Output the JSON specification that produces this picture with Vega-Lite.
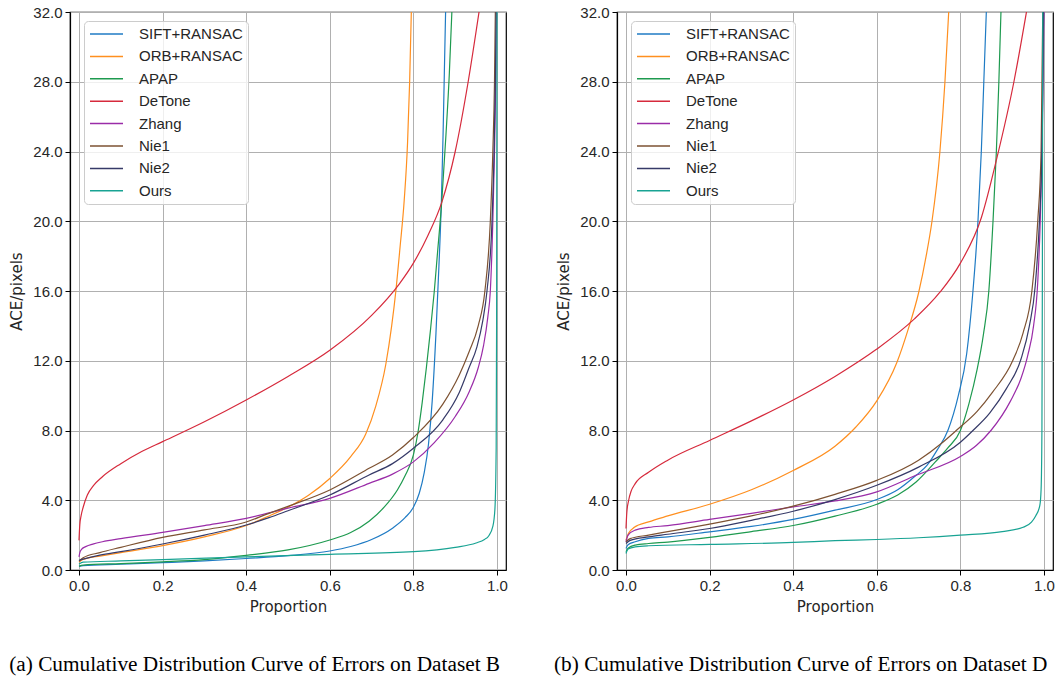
{
  "$schema": "https://vega.github.io/schema/vega-lite/v6.json",
  "background": "white",
  "padding": {"left": 5, "top": 4, "right": 0, "bottom": 0},
  "spacing": 41,
  "config": {
    "view": {"stroke": "black", "strokeWidth": 1.2},
    "axis": {
      "domain": true, "domainColor": "black", "domainWidth": 1.2,
      "grid": true, "gridColor": "#b0b0b0", "gridWidth": 1,
      "ticks": true, "tickColor": "black", "tickSize": 5, "tickWidth": 1,
      "labelFont": "Liberation Sans", "labelFontSize": 15, "labelColor": "#262626", "labelPadding": 3,
      "titleFont": "DejaVu Sans", "titleFontSize": 15, "titleFontWeight": "normal", "titleColor": "#262626"
    },
    "legend": {
      "title": null, "orient": "none", "legendX": 14, "legendY": 9,
      "symbolType": "stroke", "symbolSize": 1089, "symbolStrokeWidth": 1.5,
      "labelFont": "Liberation Sans", "labelFontSize": 15, "labelColor": "#262626",
      "labelOffset": 15, "padding": 5, "rowPadding": 6.4, "clipHeight": 16,
      "strokeColor": "#cccccc", "fillColor": "rgba(255,255,255,0.8)", "cornerRadius": 4
    }
  },
  "datasets": {
    "B": [
      {"m":"SIFT+RANSAC","p":0,"v":0.2},{"m":"SIFT+RANSAC","p":0.01,"v":0.25},{"m":"SIFT+RANSAC","p":0.1,"v":0.33},{"m":"SIFT+RANSAC","p":0.2,"v":0.42},{"m":"SIFT+RANSAC","p":0.3,"v":0.52},{"m":"SIFT+RANSAC","p":0.4,"v":0.66},{"m":"SIFT+RANSAC","p":0.5,"v":0.82},{"m":"SIFT+RANSAC","p":0.6,"v":1.09},{"m":"SIFT+RANSAC","p":0.65,"v":1.35},{"m":"SIFT+RANSAC","p":0.7,"v":1.75},{"m":"SIFT+RANSAC","p":0.75,"v":2.4},{"m":"SIFT+RANSAC","p":0.78,"v":3.0},{"m":"SIFT+RANSAC","p":0.8,"v":3.6},{"m":"SIFT+RANSAC","p":0.814,"v":4.4},{"m":"SIFT+RANSAC","p":0.826,"v":5.6},{"m":"SIFT+RANSAC","p":0.836,"v":7.2},{"m":"SIFT+RANSAC","p":0.845,"v":9.7},{"m":"SIFT+RANSAC","p":0.854,"v":13.6},{"m":"SIFT+RANSAC","p":0.861,"v":17.4},{"m":"SIFT+RANSAC","p":0.867,"v":21.2},{"m":"SIFT+RANSAC","p":0.871,"v":25},{"m":"SIFT+RANSAC","p":0.874,"v":28.5},{"m":"SIFT+RANSAC","p":0.877,"v":32},
      {"m":"ORB+RANSAC","p":0,"v":0.45},{"m":"ORB+RANSAC","p":0.005,"v":0.55},{"m":"ORB+RANSAC","p":0.02,"v":0.68},{"m":"ORB+RANSAC","p":0.05,"v":0.8},{"m":"ORB+RANSAC","p":0.1,"v":1.0},{"m":"ORB+RANSAC","p":0.2,"v":1.4},{"m":"ORB+RANSAC","p":0.3,"v":1.9},{"m":"ORB+RANSAC","p":0.4,"v":2.55},{"m":"ORB+RANSAC","p":0.45,"v":3.05},{"m":"ORB+RANSAC","p":0.5,"v":3.6},{"m":"ORB+RANSAC","p":0.55,"v":4.3},{"m":"ORB+RANSAC","p":0.6,"v":5.25},{"m":"ORB+RANSAC","p":0.65,"v":6.5},{"m":"ORB+RANSAC","p":0.686,"v":7.8},{"m":"ORB+RANSAC","p":0.71,"v":9.4},{"m":"ORB+RANSAC","p":0.734,"v":11.8},{"m":"ORB+RANSAC","p":0.748,"v":14.0},{"m":"ORB+RANSAC","p":0.758,"v":16.0},{"m":"ORB+RANSAC","p":0.768,"v":18.5},{"m":"ORB+RANSAC","p":0.778,"v":21.2},{"m":"ORB+RANSAC","p":0.786,"v":24.5},{"m":"ORB+RANSAC","p":0.791,"v":28},{"m":"ORB+RANSAC","p":0.795,"v":32},
      {"m":"APAP","p":0,"v":0.22},{"m":"APAP","p":0.01,"v":0.28},{"m":"APAP","p":0.1,"v":0.37},{"m":"APAP","p":0.2,"v":0.47},{"m":"APAP","p":0.3,"v":0.6},{"m":"APAP","p":0.4,"v":0.84},{"m":"APAP","p":0.5,"v":1.15},{"m":"APAP","p":0.6,"v":1.72},{"m":"APAP","p":0.65,"v":2.15},{"m":"APAP","p":0.694,"v":2.8},{"m":"APAP","p":0.73,"v":3.6},{"m":"APAP","p":0.762,"v":4.6},{"m":"APAP","p":0.78,"v":5.4},{"m":"APAP","p":0.8,"v":6.6},{"m":"APAP","p":0.811,"v":7.9},{"m":"APAP","p":0.821,"v":9.6},{"m":"APAP","p":0.831,"v":11.6},{"m":"APAP","p":0.841,"v":13.8},{"m":"APAP","p":0.85,"v":16},{"m":"APAP","p":0.857,"v":18},{"m":"APAP","p":0.868,"v":21.2},{"m":"APAP","p":0.878,"v":25},{"m":"APAP","p":0.886,"v":28.5},{"m":"APAP","p":0.892,"v":32},
      {"m":"DeTone","p":0,"v":1.7},{"m":"DeTone","p":0.002,"v":2.6},{"m":"DeTone","p":0.005,"v":3.1},{"m":"DeTone","p":0.01,"v":3.6},{"m":"DeTone","p":0.02,"v":4.3},{"m":"DeTone","p":0.035,"v":4.85},{"m":"DeTone","p":0.056,"v":5.35},{"m":"DeTone","p":0.1,"v":6.1},{"m":"DeTone","p":0.15,"v":6.8},{"m":"DeTone","p":0.2,"v":7.36},{"m":"DeTone","p":0.3,"v":8.5},{"m":"DeTone","p":0.4,"v":9.75},{"m":"DeTone","p":0.5,"v":11.1},{"m":"DeTone","p":0.6,"v":12.6},{"m":"DeTone","p":0.7,"v":14.6},{"m":"DeTone","p":0.766,"v":16.4},{"m":"DeTone","p":0.8,"v":17.6},{"m":"DeTone","p":0.835,"v":19.2},{"m":"DeTone","p":0.868,"v":21.1},{"m":"DeTone","p":0.9,"v":24},{"m":"DeTone","p":0.931,"v":28},{"m":"DeTone","p":0.957,"v":32},
      {"m":"Zhang","p":0,"v":0.75},{"m":"Zhang","p":0.002,"v":1.0},{"m":"Zhang","p":0.006,"v":1.18},{"m":"Zhang","p":0.016,"v":1.34},{"m":"Zhang","p":0.035,"v":1.5},{"m":"Zhang","p":0.056,"v":1.62},{"m":"Zhang","p":0.1,"v":1.8},{"m":"Zhang","p":0.2,"v":2.16},{"m":"Zhang","p":0.3,"v":2.55},{"m":"Zhang","p":0.4,"v":2.96},{"m":"Zhang","p":0.5,"v":3.55},{"m":"Zhang","p":0.6,"v":4.11},{"m":"Zhang","p":0.694,"v":4.97},{"m":"Zhang","p":0.75,"v":5.5},{"m":"Zhang","p":0.8,"v":6.2},{"m":"Zhang","p":0.85,"v":7.3},{"m":"Zhang","p":0.9,"v":8.8},{"m":"Zhang","p":0.933,"v":10.2},{"m":"Zhang","p":0.955,"v":11.6},{"m":"Zhang","p":0.968,"v":12.9},{"m":"Zhang","p":0.978,"v":14.5},{"m":"Zhang","p":0.984,"v":16},{"m":"Zhang","p":0.99,"v":20},{"m":"Zhang","p":0.994,"v":24},{"m":"Zhang","p":0.997,"v":28},{"m":"Zhang","p":0.999,"v":32},
      {"m":"Nie1","p":0,"v":0.5},{"m":"Nie1","p":0.01,"v":0.7},{"m":"Nie1","p":0.05,"v":1.0},{"m":"Nie1","p":0.1,"v":1.3},{"m":"Nie1","p":0.2,"v":1.87},{"m":"Nie1","p":0.3,"v":2.3},{"m":"Nie1","p":0.4,"v":2.75},{"m":"Nie1","p":0.4545,"v":3.25},{"m":"Nie1","p":0.5,"v":3.65},{"m":"Nie1","p":0.6,"v":4.59},{"m":"Nie1","p":0.694,"v":5.83},{"m":"Nie1","p":0.75,"v":6.6},{"m":"Nie1","p":0.8,"v":7.6},{"m":"Nie1","p":0.87,"v":9.5},{"m":"Nie1","p":0.91,"v":11.2},{"m":"Nie1","p":0.933,"v":12.5},{"m":"Nie1","p":0.955,"v":14},{"m":"Nie1","p":0.971,"v":16},{"m":"Nie1","p":0.984,"v":20},{"m":"Nie1","p":0.99,"v":24},{"m":"Nie1","p":0.994,"v":28},{"m":"Nie1","p":0.996,"v":32},
      {"m":"Nie2","p":0,"v":0.55},{"m":"Nie2","p":0.01,"v":0.62},{"m":"Nie2","p":0.05,"v":0.85},{"m":"Nie2","p":0.1,"v":1.05},{"m":"Nie2","p":0.2,"v":1.49},{"m":"Nie2","p":0.3,"v":2.0},{"m":"Nie2","p":0.4,"v":2.58},{"m":"Nie2","p":0.4545,"v":3.0},{"m":"Nie2","p":0.5,"v":3.4},{"m":"Nie2","p":0.6,"v":4.3},{"m":"Nie2","p":0.694,"v":5.45},{"m":"Nie2","p":0.75,"v":6.1},{"m":"Nie2","p":0.8,"v":6.98},{"m":"Nie2","p":0.87,"v":8.6},{"m":"Nie2","p":0.91,"v":10.2},{"m":"Nie2","p":0.933,"v":11.6},{"m":"Nie2","p":0.952,"v":12.8},{"m":"Nie2","p":0.966,"v":14.3},{"m":"Nie2","p":0.976,"v":16},{"m":"Nie2","p":0.988,"v":20},{"m":"Nie2","p":0.993,"v":24},{"m":"Nie2","p":0.996,"v":28},{"m":"Nie2","p":0.998,"v":32},
      {"m":"Ours","p":0,"v":0.35},{"m":"Ours","p":0.01,"v":0.45},{"m":"Ours","p":0.1,"v":0.52},{"m":"Ours","p":0.2,"v":0.6},{"m":"Ours","p":0.4,"v":0.75},{"m":"Ours","p":0.6,"v":0.9},{"m":"Ours","p":0.8,"v":1.05},{"m":"Ours","p":0.9,"v":1.3},{"m":"Ours","p":0.95,"v":1.55},{"m":"Ours","p":0.97,"v":1.75},{"m":"Ours","p":0.98,"v":1.95},{"m":"Ours","p":0.99,"v":2.5},{"m":"Ours","p":0.995,"v":3.5},{"m":"Ours","p":0.998,"v":7},{"m":"Ours","p":0.999,"v":14},{"m":"Ours","p":1.0,"v":32}
    ],
    "D": [
      {"m":"SIFT+RANSAC","p":0,"v":1.24},{"m":"SIFT+RANSAC","p":0.005,"v":1.45},{"m":"SIFT+RANSAC","p":0.022,"v":1.62},{"m":"SIFT+RANSAC","p":0.054,"v":1.81},{"m":"SIFT+RANSAC","p":0.1,"v":1.9},{"m":"SIFT+RANSAC","p":0.2,"v":2.19},{"m":"SIFT+RANSAC","p":0.3,"v":2.5},{"m":"SIFT+RANSAC","p":0.4,"v":2.9},{"m":"SIFT+RANSAC","p":0.5,"v":3.43},{"m":"SIFT+RANSAC","p":0.6,"v":4.04},{"m":"SIFT+RANSAC","p":0.65,"v":4.6},{"m":"SIFT+RANSAC","p":0.694,"v":5.43},{"m":"SIFT+RANSAC","p":0.72,"v":6.0},{"m":"SIFT+RANSAC","p":0.745,"v":6.9},{"m":"SIFT+RANSAC","p":0.77,"v":8.0},{"m":"SIFT+RANSAC","p":0.795,"v":10},{"m":"SIFT+RANSAC","p":0.815,"v":12.4},{"m":"SIFT+RANSAC","p":0.83,"v":16},{"m":"SIFT+RANSAC","p":0.842,"v":20},{"m":"SIFT+RANSAC","p":0.85,"v":24},{"m":"SIFT+RANSAC","p":0.856,"v":28},{"m":"SIFT+RANSAC","p":0.862,"v":32},
      {"m":"ORB+RANSAC","p":0,"v":1.71},{"m":"ORB+RANSAC","p":0.006,"v":2.1},{"m":"ORB+RANSAC","p":0.02,"v":2.45},{"m":"ORB+RANSAC","p":0.054,"v":2.76},{"m":"ORB+RANSAC","p":0.1,"v":3.1},{"m":"ORB+RANSAC","p":0.2,"v":3.77},{"m":"ORB+RANSAC","p":0.3,"v":4.6},{"m":"ORB+RANSAC","p":0.4,"v":5.71},{"m":"ORB+RANSAC","p":0.5,"v":7.1},{"m":"ORB+RANSAC","p":0.55,"v":8.2},{"m":"ORB+RANSAC","p":0.6,"v":9.7},{"m":"ORB+RANSAC","p":0.648,"v":11.9},{"m":"ORB+RANSAC","p":0.675,"v":13.8},{"m":"ORB+RANSAC","p":0.7,"v":15.9},{"m":"ORB+RANSAC","p":0.718,"v":18},{"m":"ORB+RANSAC","p":0.732,"v":20},{"m":"ORB+RANSAC","p":0.751,"v":24},{"m":"ORB+RANSAC","p":0.763,"v":28},{"m":"ORB+RANSAC","p":0.772,"v":32},
      {"m":"APAP","p":0,"v":1.05},{"m":"APAP","p":0.005,"v":1.25},{"m":"APAP","p":0.022,"v":1.43},{"m":"APAP","p":0.054,"v":1.52},{"m":"APAP","p":0.1,"v":1.6},{"m":"APAP","p":0.2,"v":1.87},{"m":"APAP","p":0.3,"v":2.2},{"m":"APAP","p":0.4,"v":2.55},{"m":"APAP","p":0.5,"v":3.09},{"m":"APAP","p":0.6,"v":3.77},{"m":"APAP","p":0.65,"v":4.3},{"m":"APAP","p":0.694,"v":5.05},{"m":"APAP","p":0.74,"v":6.2},{"m":"APAP","p":0.77,"v":7.0},{"m":"APAP","p":0.8,"v":8.0},{"m":"APAP","p":0.82,"v":9.5},{"m":"APAP","p":0.84,"v":11.5},{"m":"APAP","p":0.855,"v":13.5},{"m":"APAP","p":0.868,"v":16},{"m":"APAP","p":0.878,"v":20},{"m":"APAP","p":0.886,"v":24},{"m":"APAP","p":0.892,"v":28},{"m":"APAP","p":0.897,"v":32},
      {"m":"DeTone","p":0,"v":2.38},{"m":"DeTone","p":0.002,"v":3.3},{"m":"DeTone","p":0.0064,"v":4.0},{"m":"DeTone","p":0.012,"v":4.5},{"m":"DeTone","p":0.022,"v":4.95},{"m":"DeTone","p":0.054,"v":5.6},{"m":"DeTone","p":0.1,"v":6.3},{"m":"DeTone","p":0.2,"v":7.43},{"m":"DeTone","p":0.3,"v":8.55},{"m":"DeTone","p":0.4,"v":9.75},{"m":"DeTone","p":0.5,"v":11.1},{"m":"DeTone","p":0.6,"v":12.67},{"m":"DeTone","p":0.69,"v":14.4},{"m":"DeTone","p":0.75,"v":15.9},{"m":"DeTone","p":0.8,"v":17.6},{"m":"DeTone","p":0.85,"v":20.2},{"m":"DeTone","p":0.887,"v":23.6},{"m":"DeTone","p":0.928,"v":28},{"m":"DeTone","p":0.958,"v":32},
      {"m":"Zhang","p":0,"v":1.62},{"m":"Zhang","p":0.005,"v":2.0},{"m":"Zhang","p":0.022,"v":2.29},{"m":"Zhang","p":0.054,"v":2.44},{"m":"Zhang","p":0.1,"v":2.55},{"m":"Zhang","p":0.2,"v":2.9},{"m":"Zhang","p":0.3,"v":3.25},{"m":"Zhang","p":0.4,"v":3.62},{"m":"Zhang","p":0.5,"v":3.96},{"m":"Zhang","p":0.6,"v":4.48},{"m":"Zhang","p":0.694,"v":5.43},{"m":"Zhang","p":0.8,"v":6.51},{"m":"Zhang","p":0.838,"v":7.14},{"m":"Zhang","p":0.873,"v":8},{"m":"Zhang","p":0.92,"v":9.7},{"m":"Zhang","p":0.945,"v":11},{"m":"Zhang","p":0.961,"v":12.3},{"m":"Zhang","p":0.975,"v":14},{"m":"Zhang","p":0.985,"v":16.5},{"m":"Zhang","p":0.991,"v":20},{"m":"Zhang","p":0.995,"v":24},{"m":"Zhang","p":0.998,"v":28},{"m":"Zhang","p":1.0,"v":32},
      {"m":"Nie1","p":0,"v":1.62},{"m":"Nie1","p":0.01,"v":1.8},{"m":"Nie1","p":0.054,"v":2.0},{"m":"Nie1","p":0.1,"v":2.2},{"m":"Nie1","p":0.2,"v":2.63},{"m":"Nie1","p":0.3,"v":3.1},{"m":"Nie1","p":0.4,"v":3.66},{"m":"Nie1","p":0.5,"v":4.34},{"m":"Nie1","p":0.6,"v":5.14},{"m":"Nie1","p":0.7,"v":6.3},{"m":"Nie1","p":0.758,"v":7.33},{"m":"Nie1","p":0.79,"v":8.0},{"m":"Nie1","p":0.84,"v":9.1},{"m":"Nie1","p":0.877,"v":10.2},{"m":"Nie1","p":0.925,"v":12},{"m":"Nie1","p":0.95,"v":13.6},{"m":"Nie1","p":0.971,"v":16},{"m":"Nie1","p":0.985,"v":20},{"m":"Nie1","p":0.993,"v":24},{"m":"Nie1","p":0.995,"v":28},{"m":"Nie1","p":0.997,"v":32},
      {"m":"Nie2","p":0,"v":1.52},{"m":"Nie2","p":0.01,"v":1.7},{"m":"Nie2","p":0.054,"v":1.9},{"m":"Nie2","p":0.1,"v":2.05},{"m":"Nie2","p":0.2,"v":2.38},{"m":"Nie2","p":0.3,"v":2.85},{"m":"Nie2","p":0.4,"v":3.37},{"m":"Nie2","p":0.5,"v":4.04},{"m":"Nie2","p":0.6,"v":4.86},{"m":"Nie2","p":0.7,"v":5.9},{"m":"Nie2","p":0.8,"v":7.33},{"m":"Nie2","p":0.83,"v":8.0},{"m":"Nie2","p":0.87,"v":9.0},{"m":"Nie2","p":0.91,"v":10.4},{"m":"Nie2","p":0.945,"v":12.1},{"m":"Nie2","p":0.965,"v":14},{"m":"Nie2","p":0.979,"v":16.3},{"m":"Nie2","p":0.989,"v":20},{"m":"Nie2","p":0.995,"v":24},{"m":"Nie2","p":0.997,"v":28},{"m":"Nie2","p":0.999,"v":32},
      {"m":"Ours","p":0,"v":0.95},{"m":"Ours","p":0.005,"v":1.2},{"m":"Ours","p":0.022,"v":1.33},{"m":"Ours","p":0.054,"v":1.39},{"m":"Ours","p":0.2,"v":1.47},{"m":"Ours","p":0.4,"v":1.58},{"m":"Ours","p":0.5,"v":1.68},{"m":"Ours","p":0.6,"v":1.75},{"m":"Ours","p":0.7,"v":1.85},{"m":"Ours","p":0.8,"v":2.0},{"m":"Ours","p":0.9,"v":2.2},{"m":"Ours","p":0.95,"v":2.45},{"m":"Ours","p":0.97,"v":2.75},{"m":"Ours","p":0.98,"v":3.1},{"m":"Ours","p":0.99,"v":3.7},{"m":"Ours","p":0.993,"v":4.6},{"m":"Ours","p":0.995,"v":8},{"m":"Ours","p":0.996,"v":16},{"m":"Ours","p":0.997,"v":32}
    ]
  },
  "hconcat": [
    {
      "width": 436, "height": 558,
      "data": {"name": "B"},
      "title": {"text": "(a)  Cumulative Distribution Curve of Errors on Dataset B", "orient": "bottom", "anchor": "middle", "frame": "bounds", "font": "Liberation Serif", "fontSize": 21.3, "fontWeight": "normal", "color": "black", "offset": 40, "dx": -4},
      "mark": {"type": "line", "strokeWidth": 1.2, "interpolate": "monotone", "clip": true},
      "encoding": {
        "x": {"field": "p", "type": "quantitative", "scale": {"domain": [-0.0215, 1.0215], "nice": false, "zero": false}, "axis": {"values": [0, 0.2, 0.4, 0.6, 0.8, 1.0], "format": ".1f", "title": "Proportion", "titlePadding": 6}},
        "y": {"field": "v", "type": "quantitative", "scale": {"domain": [0, 32], "nice": false}, "axis": {"values": [0, 4, 8, 12, 16, 20, 24, 28, 32], "format": ".1f", "title": "ACE/pixels", "titlePadding": 8}},
        "color": {"field": "m", "type": "nominal", "scale": {"domain": ["SIFT+RANSAC", "ORB+RANSAC", "APAP", "DeTone", "Zhang", "Nie1", "Nie2", "Ours"], "range": ["#1f7bc4", "#ff8f1f", "#1e9a4f", "#d62a3c", "#9a2ca8", "#7d5232", "#363a68", "#18a393"]}}
      }
    },
    {
      "width": 436, "height": 558,
      "data": {"name": "D"},
      "title": {"text": "(b)  Cumulative Distribution Curve of Errors on Dataset D", "orient": "bottom", "anchor": "middle", "frame": "bounds", "font": "Liberation Serif", "fontSize": 21.3, "fontWeight": "normal", "color": "black", "offset": 40, "dx": -5},
      "mark": {"type": "line", "strokeWidth": 1.2, "interpolate": "monotone", "clip": true},
      "encoding": {
        "x": {"field": "p", "type": "quantitative", "scale": {"domain": [-0.0215, 1.0215], "nice": false, "zero": false}, "axis": {"values": [0, 0.2, 0.4, 0.6, 0.8, 1.0], "format": ".1f", "title": "Proportion", "titlePadding": 6}},
        "y": {"field": "v", "type": "quantitative", "scale": {"domain": [0, 32], "nice": false}, "axis": {"values": [0, 4, 8, 12, 16, 20, 24, 28, 32], "format": ".1f", "title": "ACE/pixels", "titlePadding": 8}},
        "color": {"field": "m", "type": "nominal", "scale": {"domain": ["SIFT+RANSAC", "ORB+RANSAC", "APAP", "DeTone", "Zhang", "Nie1", "Nie2", "Ours"], "range": ["#1f7bc4", "#ff8f1f", "#1e9a4f", "#d62a3c", "#9a2ca8", "#7d5232", "#363a68", "#18a393"]}}
      }
    }
  ],
  "resolve": {"legend": {"color": "independent"}}
}
